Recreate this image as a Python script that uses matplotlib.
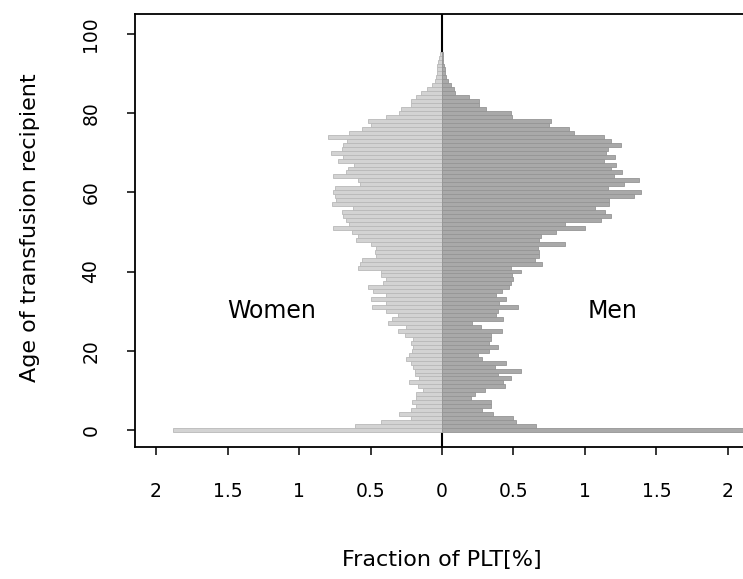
import numpy as np
import matplotlib
matplotlib.use('Agg')
import matplotlib.pyplot as plt

# ==============================================================================
# DATA - fraction of PLT transfusions (%) by recipient age, women / men
# ==============================================================================

ages = list(range(0, 96))

women = [1.88, 0.61, 0.43, 0.22, 0.30, 0.22, 0.18, 0.21, 0.18, 0.18,
         0.13, 0.165, 0.23, 0.16, 0.19, 0.19, 0.20, 0.22, 0.25, 0.23,
         0.21, 0.20, 0.22, 0.205, 0.26, 0.305, 0.25, 0.38, 0.35, 0.31,
         0.39, 0.49, 0.39, 0.50, 0.39, 0.48, 0.52, 0.41, 0.39, 0.43,
         0.43, 0.585, 0.57, 0.56, 0.46, 0.47, 0.46, 0.50, 0.60, 0.585,
         0.63, 0.76, 0.65, 0.67, 0.695, 0.70, 0.625, 0.77, 0.74, 0.745,
         0.765, 0.75, 0.57, 0.585, 0.76, 0.67, 0.66, 0.615, 0.725, 0.695,
         0.775, 0.70, 0.695, 0.665, 0.80, 0.65, 0.56, 0.50, 0.52, 0.39,
         0.30, 0.29, 0.22, 0.22, 0.18, 0.15, 0.105, 0.07, 0.05, 0.042,
         0.033, 0.037, 0.033, 0.028, 0.019, 0.016]

men = [2.30, 0.66, 0.52, 0.50, 0.36, 0.28, 0.34, 0.34, 0.205, 0.23,
       0.30, 0.44, 0.43, 0.48, 0.39, 0.55, 0.37, 0.45, 0.28, 0.25,
       0.33, 0.39, 0.33, 0.34, 0.34, 0.42, 0.27, 0.21, 0.43, 0.38,
       0.39, 0.53, 0.40, 0.45, 0.38, 0.42, 0.47, 0.48, 0.50, 0.49,
       0.55, 0.48, 0.70, 0.65, 0.68, 0.68, 0.67, 0.86, 0.68, 0.69,
       0.80, 1.00, 0.86, 1.11, 1.18, 1.14, 1.07, 1.17, 1.17, 1.34,
       1.39, 1.16, 1.27, 1.38, 1.20, 1.26, 1.18, 1.22, 1.13, 1.21,
       1.15, 1.16, 1.25, 1.18, 1.13, 0.92, 0.89, 0.75, 0.76, 0.49,
       0.48, 0.31, 0.26, 0.26, 0.19, 0.09, 0.085, 0.062, 0.045, 0.03,
       0.024, 0.018, 0.012, 0.009, 0.007, 0.005]

xticks = [-2, -1.5, -1, -0.5, 0, 0.5, 1, 1.5, 2]
xticklabels = ['2', '1.5', '1', '0.5', '0', '0.5', '1', '1.5', '2']
yticks = [0, 20, 40, 60, 80, 100]

# ==============================================================================
# PLOT
# ==============================================================================

W, H = 743, 579
fig = plt.figure(figsize=(W / 100, H / 100), dpi=100)
# axes box: left 135 px, top 14 px, bottom 447 px, right edge runs off the figure
ax = fig.add_axes([135 / W, 1 - 447 / H, 614 / W, 433 / H])

ax.axvline(0, color='black', linewidth=1.5, zorder=1)

ax.barh(ages, -np.array(women), height=1.0, color='#d3d3d3',
        edgecolor='#b9b9b9', linewidth=0.6, zorder=2)
ax.barh(ages, men, height=1.0, color='#a9a9a9',
        edgecolor='#959595', linewidth=0.6, zorder=2)

ax.set_xlim(-2.147, 2.147)
ax.set_ylim(-4.3, 105)

ax.set_xticks(xticks)
ax.set_xticklabels(xticklabels)
ax.set_yticks(yticks)
ax.set_yticklabels([str(v) for v in yticks], rotation=90, va='center')

ax.tick_params(axis='both', direction='out', length=6, width=1.1,
               labelsize=13.5, pad=19)

for side in ['top', 'left', 'bottom']:
    ax.spines[side].set_linewidth(1.3)
ax.spines['right'].set_visible(False)

ax.text(-1.19, 30, 'Women', fontsize=17, ha='center', va='center')
ax.text(1.19, 30, 'Men', fontsize=17, ha='center', va='center')

fig.text(442 / W, 1 - 560 / H, 'Fraction of PLT[%]', fontsize=16,
         ha='center', va='center')
fig.text(30 / W, 1 - 228 / H, 'Age of transfusion recipient', fontsize=16,
         ha='center', va='center', rotation=90)

fig.savefig('out.png', dpi=100)
plt.close(fig)
